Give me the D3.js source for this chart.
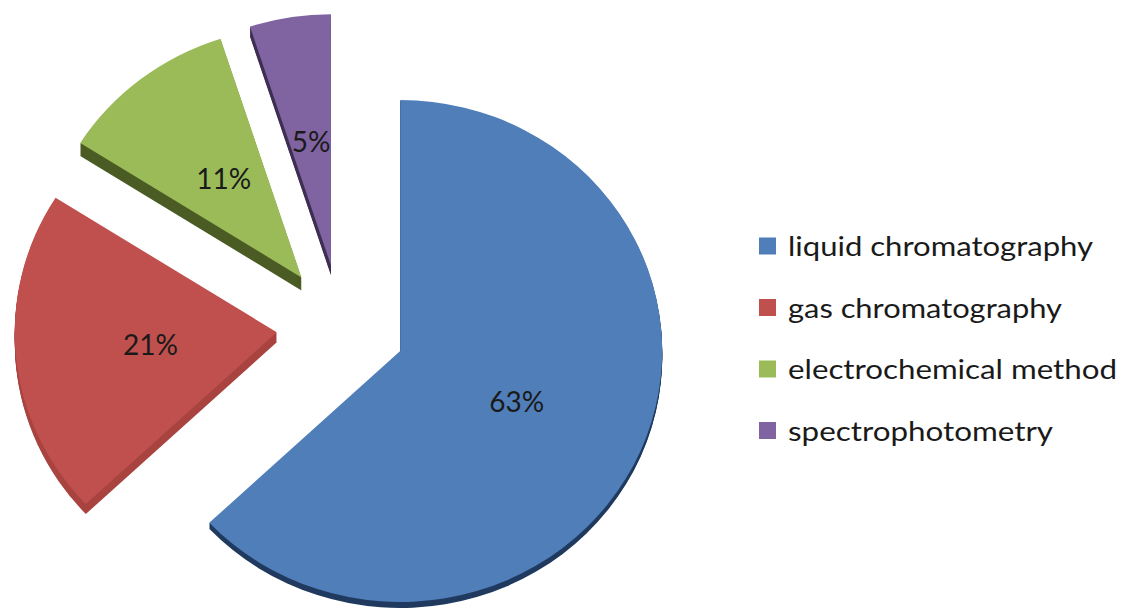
<!DOCTYPE html>
<html>
<head>
<meta charset="utf-8">
<script src="https://cdn.jsdelivr.net/npm/d3@7/dist/d3.min.js"></script>
<style>
  html, body { margin: 0; padding: 0; background: #ffffff; }
  svg { display: block; }
  text { font-family: Lato, "Open Sans", "DejaVu Sans", sans-serif; }
</style>
</head>
<body>
<svg id="chart" width="1121" height="613"></svg>
<script>
// ---- data ----
const categories = ["liquid chromatography", "gas chromatography", "electrochemical method", "spectrophotometry"];
const values = [63, 21, 11, 5];
const labels = ["63%", "21%", "11%", "5%"];
const topColors = ["#4F7EB8", "#C0504D", "#9BBB59", "#8064A2"];
const sideColors = ["#1F3A5E", "#A8433F", "#4B5B24", "#3E2F52"];
const sideDepths = [6, 10, 13, 10];
const legendWidths = [305, 274, 329, 265];

// ---- layout ----
const W = 1121, H = 613;
const cx = 341, cy = 326.4;      // pie centre before explosion
const rx = 262, ry = 251;        // slightly tilted pie (ellipse)
const explodeX = 64.5, explodeY = 62;
const labelRx = 127, labelRy = 126;

const svg = d3.select("#chart");
svg.append("rect").attr("width", W).attr("height", H).attr("fill", "#fff");

const pie = d3.pie().sort(null).value(d => d)(values);
const arc = d3.arc().innerRadius(0).outerRadius(rx);
const mid = d => (d.startAngle + d.endAngle) / 2;

const slices = svg.append("g").selectAll("g.slice")
  .data(pie)
  .enter().append("g")
  .attr("class", "slice")
  .attr("transform", d => {
    const ox = cx + explodeX * Math.sin(mid(d));
    const oy = cy - explodeY * Math.cos(mid(d));
    return `translate(${ox},${oy})`;
  });

slices.each(function(d, i) {
  const g = d3.select(this);
  // side (extrusion)
  d3.range(1, sideDepths[i] + 1).forEach(t => {
    g.append("path")
      .attr("d", arc(d))
      .attr("transform", `translate(0,${t}) scale(1,${ry / rx})`)
      .attr("fill", sideColors[i]);
  });
  // top face
  g.append("path")
    .attr("d", arc(d))
    .attr("transform", `scale(1,${ry / rx})`)
    .attr("fill", topColors[i]);
});

// percentage labels
slices.append("text")
  .attr("x", d => labelRx * Math.sin(mid(d)))
  .attr("y", d => -labelRy * Math.cos(mid(d)))
  .attr("text-anchor", "middle")
  .attr("dominant-baseline", "central")
  .attr("font-size", 28)
  .attr("fill", "#1a1a1a")
  .text((d, i) => labels[i]);

// ---- legend ----
const legendX = 759, legendY0 = 246, legendStep = 61.5;
const legend = svg.append("g").selectAll("g")
  .data(categories)
  .enter().append("g")
  .attr("transform", (d, i) => `translate(${legendX},${legendY0 + i * legendStep})`);

legend.append("rect")
  .attr("x", 0).attr("y", -8.5)
  .attr("width", 17).attr("height", 17)
  .attr("fill", (d, i) => topColors[i]);

legend.append("text")
  .attr("x", 29)
  .attr("y", 0)
  .attr("dominant-baseline", "central")
  .attr("font-size", 26)
  .attr("textLength", (d, i) => legendWidths[i])
  .attr("lengthAdjust", "spacingAndGlyphs")
  .attr("fill", "#1a1a1a")
  .text(d => d);
</script>
</body>
</html>
